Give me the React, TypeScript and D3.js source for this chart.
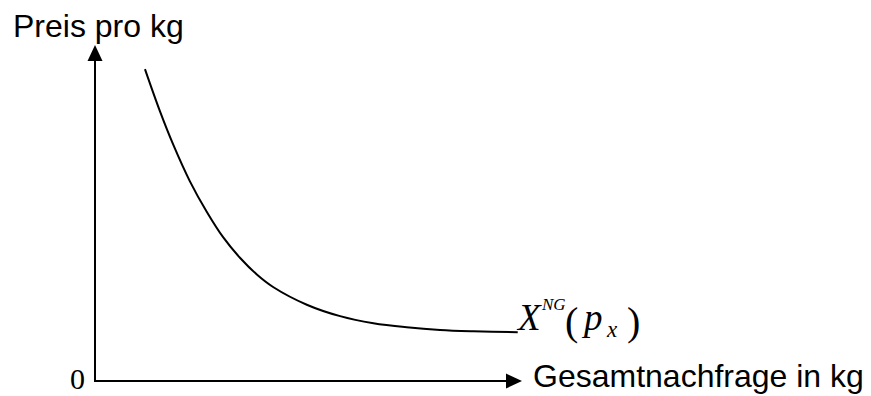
import React from "react";
import * as d3 from "d3";

// demand curve (quantity in kg, price per kg, arbitrary units)
const quantity = [11.7, 15.2, 18.3, 22.2, 26.2, 30, 34, 37.9, 41.8, 49.6, 57.4, 65.2, 73, 80.8, 88.6, 99];
const price = [92.8, 80.3, 70.4, 59.5, 50.3, 42.8, 36.6, 31.7, 27.9, 22.7, 19.3, 17.2, 16, 15.2, 14.8, 14.5];

const xLabel = "Gesamtnachfrage in kg";
const yLabel = "Preis pro kg";
const originLabel = "0";

const width = 871;
const height = 396;

const App = () => {
  const x = d3.scaleLinear().domain([0, 100]).range([95, 522]);
  const y = d3.scaleLinear().domain([0, 100]).range([381, 45]);

  const line = d3
    .line<number>()
    .x((d, i) => x(quantity[i]))
    .y((d) => y(d))
    .curve(d3.curveCatmullRom.alpha(0.5));

  const x0 = x(0);
  const y0 = y(0);
  const xEnd = x(100);
  const yEnd = y(100);
  const head = 16;
  const half = 7.5;

  return (
    <svg
      width={width}
      height={height}
      style={{ position: "absolute", left: 0, top: 0, background: "#fff" }}
    >
      {/* axes */}
      <line x1={x0} y1={y0} x2={x0} y2={yEnd + head - 1} stroke="#000" strokeWidth={2} />
      <path
        d={`M${x0},${yEnd} L${x0 - half},${yEnd + head} L${x0 + half},${yEnd + head} Z`}
        fill="#000"
      />
      <line x1={x0 - 1} y1={y0} x2={xEnd - head + 1} y2={y0} stroke="#000" strokeWidth={2} />
      <path
        d={`M${xEnd},${y0} L${xEnd - head},${y0 - half} L${xEnd - head},${y0 + half} Z`}
        fill="#000"
      />

      {/* demand curve */}
      <path d={line(price) ?? ""} fill="none" stroke="#000" strokeWidth={2} />

      {/* labels */}
      <text x={13} y={37} fontFamily="'Liberation Sans', Arial, sans-serif" fontSize={32}>
        {yLabel}
      </text>
      <text x={533} y={387} fontFamily="'Liberation Sans', Arial, sans-serif" fontSize={32}>
        {xLabel}
      </text>
      <text x={70} y={389} fontFamily="'Liberation Serif', 'Times New Roman', serif" fontSize={30}>
        {originLabel}
      </text>

      <g fontFamily="'Liberation Serif', 'Times New Roman', serif">
        <text x={518} y={330} fontSize={37} fontStyle="italic">X</text>
        <text x={542} y={310} fontSize={17} fontStyle="italic">NG</text>
        <text x={565} y={335} fontSize={40}>(</text>
        <text x={584} y={330} fontSize={37} fontStyle="italic">p</text>
        <text x={607} y={337} fontSize={23} fontStyle="italic">x</text>
        <text x={627} y={335} fontSize={40}>)</text>
      </g>
    </svg>
  );
};

export default App;
